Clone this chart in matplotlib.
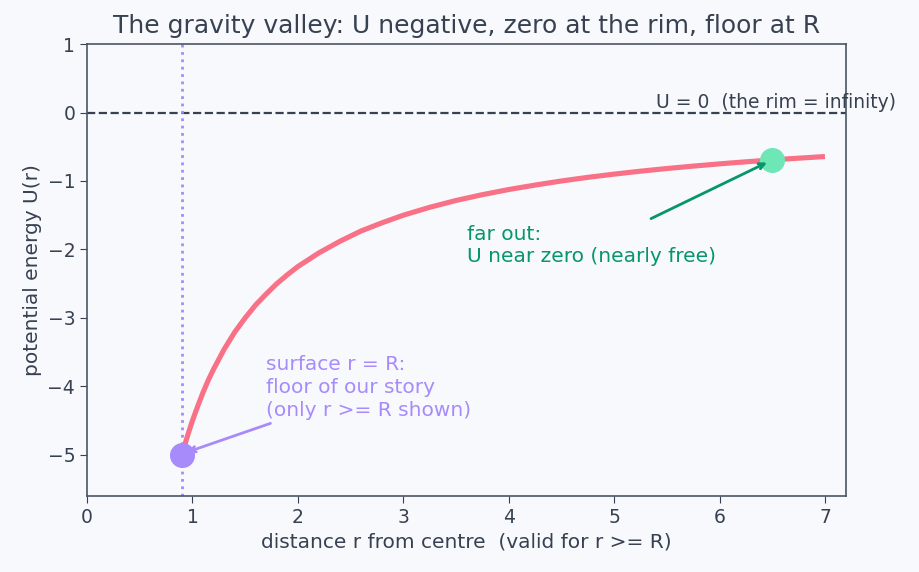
import numpy as np
import matplotlib.pyplot as plt

# values
r_vals = [0.9, 0.93, 0.96, 1.0, 1.05, 1.1, 1.15, 1.2, 1.3, 1.4, 1.5, 1.6, 1.7,
          1.8, 1.9, 2.0, 2.2, 2.4, 2.6, 2.8, 3.0, 3.25, 3.5, 3.75, 4.0, 4.25,
          4.5, 4.75, 5.0, 5.25, 5.5, 5.75, 6.0, 6.25, 6.5, 6.75, 7.0]
U_vals = [-5.0, -4.84, -4.69, -4.5, -4.29, -4.09, -3.91, -3.75, -3.46, -3.21,
          -3.0, -2.81, -2.65, -2.5, -2.37, -2.25, -2.05, -1.88, -1.73, -1.61,
          -1.5, -1.385, -1.285, -1.2, -1.125, -1.06, -1.0, -0.947, -0.9,
          -0.857, -0.818, -0.783, -0.75, -0.72, -0.692, -0.667, -0.643]
R_surface = 0.9
U_floor = -5.0
r_far = 6.5
U_far = -0.69

bg = "#f8f9fd"
ink = "#374151"
purple = "#a78bfa"
green = "#059669"
fs = 14.5

fig, ax = plt.subplots(figsize=(9.2, 5.72), dpi=100)
fig.patch.set_facecolor(bg)
ax.set_facecolor(bg)

ax.axhline(0, color="#374151", ls="--", lw=1.6, zorder=1)
ax.axvline(R_surface, color=purple, ls=":", lw=2, zorder=1)
ax.plot(r_vals, U_vals, color="#f87186", lw=3.7, zorder=2,
        solid_joinstyle="round", solid_capstyle="butt")
ax.plot([R_surface], [U_floor], "o", color=purple, ms=17, zorder=3)
ax.plot([r_far], [U_far], "o", color="#6ee7b7", ms=17, zorder=3)

ax.text(5.4, 0.07, "U = 0  (the rim = infinity)", color=ink, fontsize=13.5)

# purple note at the surface
ax.text(1.7, -4.43, "surface r = R:\nfloor of our story\n(only r >= R shown)",
        color=purple, fontsize=fs, linespacing=1.25)
ax.annotate("", xy=(R_surface + 0.05, U_floor + 0.04), xytext=(1.74, -4.54),
            arrowprops=dict(arrowstyle="->", color=purple, lw=2,
                            shrinkA=0, shrinkB=0))

# green note far out
ax.text(3.6, -2.19, "far out:\nU near zero (nearly free)",
        color=green, fontsize=fs, linespacing=1.25)
ax.annotate("", xy=(r_far - 0.05, U_far - 0.04), xytext=(5.35, -1.55),
            arrowprops=dict(arrowstyle="->", color=green, lw=2,
                            shrinkA=0, shrinkB=0))

ax.set_xlim(0, 7.2)
ax.set_ylim(-5.6, 1)
ax.set_xticks(range(0, 8))
ax.set_yticks(range(-5, 2))
ax.set_yticklabels(["\u22125", "\u22124", "\u22123", "\u22122", "\u22121", "0", "1"])
ax.tick_params(colors=ink, labelsize=13.5, length=5)
for s in ax.spines.values():
    s.set_color("#4b5563")
    s.set_linewidth(1.2)

ax.set_title("The gravity valley: U negative, zero at the rim, floor at R",
             color=ink, fontsize=18, pad=8)
ax.set_xlabel("distance r from centre  (valid for r >= R)", color=ink, fontsize=fs)
ax.set_ylabel("potential energy U(r)", color=ink, fontsize=fs)

fig.subplots_adjust(left=0.0946, right=0.9196, top=0.923, bottom=0.133)
fig.savefig("out.png", facecolor=bg)
